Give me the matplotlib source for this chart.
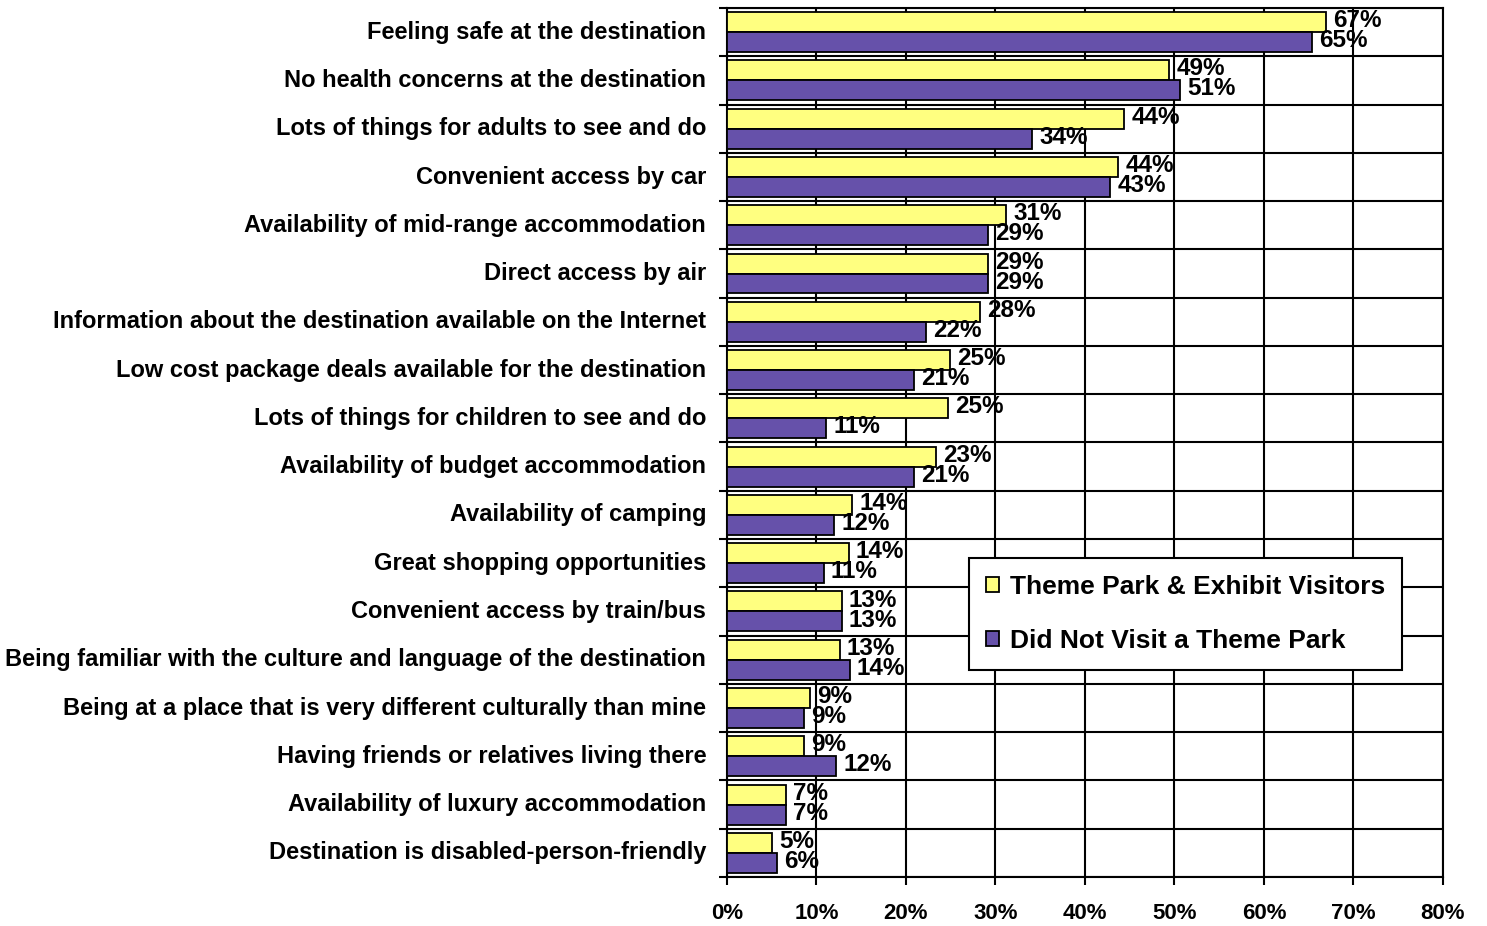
import numpy as np
import matplotlib.pyplot as plt
from matplotlib.ticker import FixedLocator, FuncFormatter

plt.rcParams['font.family'] = ['Liberation Sans', 'DejaVu Sans']
plt.rcParams['font.weight'] = 'bold'

# Dane
categories = [
    "Feeling safe at the destination",
    "No health concerns at the destination",
    "Lots of things for adults to see and do",
    "Convenient access by car",
    "Availability of mid-range accommodation",
    "Direct access by air",
    "Information about the destination available on the Internet",
    "Low cost package deals available for the destination",
    "Lots of things for children to see and do",
    "Availability of budget accommodation",
    "Availability of camping",
    "Great shopping opportunities",
    "Convenient access by train/bus",
    "Being familiar with the culture and language of the destination",
    "Being at a place that is very different culturally than mine",
    "Having friends or relatives living there",
    "Availability of luxury accommodation",
    "Destination is disabled-person-friendly",
]
theme_park = [66.9, 49.4, 44.4, 43.7, 31.2, 29.2, 28.3, 24.9, 24.7, 23.4,
              14.0, 13.6, 12.8, 12.6, 9.3, 8.6, 6.6, 5.0]
no_theme_park = [65.4, 50.6, 34.1, 42.8, 29.2, 29.2, 22.2, 20.9, 11.1, 20.9,
                 12.0, 10.8, 12.8, 13.7, 8.6, 12.2, 6.6, 5.6]
series_names = ["Theme Park & Exhibit Visitors", "Did Not Visit a Theme Park"]

fig = plt.figure(figsize=(14.87, 9.26), dpi=100)
ax = fig.add_axes([0.4889, 0.0529, 0.4815, 0.9385])

y = np.arange(len(categories))
h = 0.414
b1 = ax.barh(y - h / 2, theme_park, height=h, color="#FFFF80",
             edgecolor="black", linewidth=1.3, label=series_names[0], zorder=3)
b2 = ax.barh(y + h / 2, no_theme_park, height=h, color="#6651AA",
             edgecolor="black", linewidth=1.3, label=series_names[1], zorder=3)

# Etykiety wartości
for bars, vals in [(b1, theme_park), (b2, no_theme_park)]:
    for bar, v in zip(bars, vals):
        ax.text(v + 0.8, bar.get_y() + bar.get_height() / 2 - 0.03,
                f"{v:.0f}%", va="center", ha="left", fontsize=17.5,
                fontweight="bold", zorder=4)

ax.set_xlim(0, 80)
ax.set_ylim(len(categories) - 0.5, -0.5)

ax.set_yticks(y - 0.05)
ax.set_yticklabels(categories, fontsize=17)
ax.yaxis.set_minor_locator(FixedLocator(np.arange(-0.5, len(categories), 1)))
ax.tick_params(axis="y", which="major", length=0, pad=15)
ax.tick_params(axis="y", which="minor", length=6, width=1.5, direction="out")

ax.set_xticks(np.arange(0, 81, 10))
ax.xaxis.set_major_formatter(FuncFormatter(lambda v, p: f"{v:.0f}%"))
ax.tick_params(axis="x", length=6, width=1.5, direction="out", pad=13,
               labelsize=16)

ax.grid(True, axis="x", which="major", color="black", linewidth=1.5, zorder=0)
ax.grid(True, axis="y", which="minor", color="black", linewidth=1.5, zorder=0)
ax.grid(False, axis="y", which="major")
ax.set_axisbelow(True)
for s in ax.spines.values():
    s.set_linewidth(1.5)

leg = ax.legend(loc="upper right", bbox_to_anchor=(0.943, 0.367),
                fontsize=19, frameon=True, fancybox=False, edgecolor="black",
                handlelength=0.5, handleheight=0.5, handletextpad=0.4,
                labelspacing=1.13, borderpad=0.65, borderaxespad=0,
                framealpha=1)
leg.get_frame().set_linewidth(1.5)
for t in leg.get_texts():
    t.set_fontweight("bold")

fig.savefig("out.png", dpi=100)
